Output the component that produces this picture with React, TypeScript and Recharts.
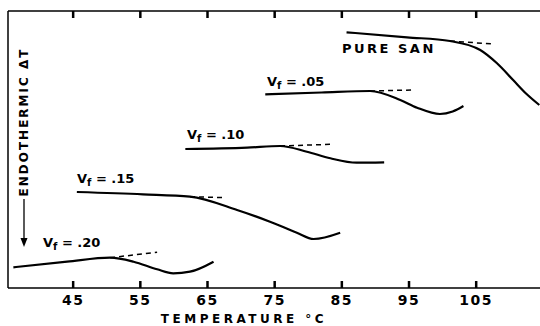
import { ComposedChart, Line, XAxis, YAxis } from "recharts";

// temperature (°C) against endothermic ΔT (arbitrary units, bigger = higher on the page)
const pureSan = [
  { t: 85.7, v: 255.7 },
  { t: 94.7, v: 250.7 },
  { t: 101.1, v: 247 },
  { t: 105.6, v: 238 },
  { t: 108.1, v: 224.7 },
  { t: 110.5, v: 208 },
  { t: 112.5, v: 194 },
  { t: 114.4, v: 183 },
];
const pureSanTangent = [
  { t: 101.1, v: 247 },
  { t: 107.5, v: 244 },
];

const vf05 = [
  { t: 73.6, v: 193.7 },
  { t: 82.0, v: 195.5 },
  { t: 89.2, v: 197 },
  { t: 93.7, v: 188 },
  { t: 96.2, v: 180.3 },
  { t: 99.6, v: 174 },
  { t: 101.5, v: 176.5 },
  { t: 103.1, v: 182 },
];
const vf05Tangent = [
  { t: 89.2, v: 197 },
  { t: 95.6, v: 198 },
];

const vf10 = [
  { t: 61.7, v: 139 },
  { t: 70.9, v: 140.3 },
  { t: 75.8, v: 142 },
  { t: 79.8, v: 136.3 },
  { t: 83.3, v: 129.7 },
  { t: 87.2, v: 125.3 },
  { t: 91.3, v: 125.7 },
];
const vf10Tangent = [
  { t: 75.8, v: 142 },
  { t: 83.5, v: 143.7 },
];

const vf15 = [
  { t: 45.55, v: 96 },
  { t: 55.4, v: 93.7 },
  { t: 62.4, v: 91.3 },
  { t: 69.4, v: 78 },
  { t: 74.3, v: 66.3 },
  { t: 78.3, v: 55.3 },
  { t: 80.8, v: 49 },
  { t: 84.75, v: 55.3 },
];
const vf15Tangent = [
  { t: 62.4, v: 91.3 },
  { t: 67.6, v: 90.3 },
];

const vf20 = [
  { t: 36.1, v: 20.7 },
  { t: 44.1, v: 26.3 },
  { t: 50.5, v: 30.3 },
  { t: 54.0, v: 26.3 },
  { t: 57.5, v: 18.7 },
  { t: 59.9, v: 14.7 },
  { t: 62.4, v: 16.3 },
  { t: 65.9, v: 26.3 },
];
const vf20Tangent = [
  { t: 50.5, v: 30.3 },
  { t: 57.5, v: 35.7 },
];

const xTicks = [45, 55, 65, 75, 85, 95, 105];

const X_DOMAIN = [35.3, 114.5];
const FONT = "'DejaVu Sans', sans-serif";
const PLOT_LEFT = 8;
const PLOT_RIGHT = 540;
const PLOT_TOP = 11;
const PLOT_BOTTOM = 288;

// same linear mapping the x axis uses, only for the frame's inward tick marks
const tx = (t: number) =>
  PLOT_LEFT + ((t - X_DOMAIN[0]) / (X_DOMAIN[1] - X_DOMAIN[0])) * (PLOT_RIGHT - PLOT_LEFT);

const BottomTick = (props: any) => {
  const { x, y, payload } = props;
  return (
    <text
      x={x}
      y={y + 17}
      textAnchor="middle"
      fontFamily={FONT}
      fontSize={14}
      fontWeight="bold"
      letterSpacing={1.5}
      fill="#000"
    >
      {payload.value}
    </text>
  );
};

const VfLabel = ({ x, y, value }: { x: number; y: number; value: string }) => (
  <text x={x} y={y} fontFamily={FONT} fontSize={13} fontWeight="bold" fill="#000">
    <tspan>V</tspan>
    <tspan dy={3} fontSize={10}>f</tspan>
    <tspan dy={-3}>{" = " + value}</tspan>
  </text>
);

const solid = { stroke: "#000", strokeWidth: 2.2, dot: false, isAnimationActive: false };
const dashed = {
  stroke: "#000",
  strokeWidth: 1.5,
  strokeDasharray: "5 4",
  dot: false,
  isAnimationActive: false,
};

export default function App() {
  return (
    <div style={{ position: "absolute", left: 0, top: 0 }}>
      <ComposedChart
        width={540}
        height={326}
        margin={{ top: PLOT_TOP, right: 0, bottom: 0, left: PLOT_LEFT }}
        style={{ background: "#fff" }}
      >
        <XAxis
          dataKey="t"
          type="number"
          domain={X_DOMAIN}
          allowDataOverflow
          ticks={xTicks}
          height={38}
          tickSize={0}
          tickMargin={0}
          tickLine={false}
          axisLine={{ stroke: "#000", strokeWidth: 1.5 }}
          tick={<BottomTick />}
        />
        <YAxis type="number" domain={[0, 277]} hide allowDataOverflow />
        <line x1={PLOT_LEFT} y1={PLOT_TOP} x2={PLOT_RIGHT} y2={PLOT_TOP} stroke="#000" strokeWidth={1.5} />
        <line x1={PLOT_LEFT} y1={PLOT_TOP} x2={PLOT_LEFT} y2={PLOT_BOTTOM} stroke="#000" strokeWidth={1.5} />
        <g>
          {xTicks.map((t) => (
            <g key={t}>
              <line x1={tx(t)} y1={PLOT_BOTTOM} x2={tx(t)} y2={PLOT_BOTTOM - 7} stroke="#000" strokeWidth={2.5} />
              <line x1={tx(t)} y1={PLOT_TOP} x2={tx(t)} y2={PLOT_TOP + 7} stroke="#000" strokeWidth={2.5} />
            </g>
          ))}
        </g>

        <Line data={pureSan} dataKey="v" type="monotone" {...solid} />
        <Line data={pureSanTangent} dataKey="v" type="linear" {...dashed} />
        <Line data={vf05} dataKey="v" type="monotone" {...solid} />
        <Line data={vf05Tangent} dataKey="v" type="linear" {...dashed} />
        <Line data={vf10} dataKey="v" type="monotone" {...solid} />
        <Line data={vf10Tangent} dataKey="v" type="linear" {...dashed} />
        <Line data={vf15} dataKey="v" type="monotone" {...solid} />
        <Line data={vf15Tangent} dataKey="v" type="linear" {...dashed} />
        <Line data={vf20} dataKey="v" type="monotone" {...solid} />
        <Line data={vf20Tangent} dataKey="v" type="linear" {...dashed} />

        <text
          x={342}
          y={53}
          fontFamily={FONT}
          fontSize={13}
          fontWeight="bold"
          letterSpacing={2.5}
          fill="#000"
        >
          PURE SAN
        </text>
        <VfLabel x={267} y={86} value=".05" />
        <VfLabel x={187} y={139} value=".10" />
        <VfLabel x={77} y={183} value=".15" />
        <VfLabel x={43} y={247} value=".20" />

        <text
          x={244}
          y={323}
          textAnchor="middle"
          fontFamily={FONT}
          fontSize={12}
          fontWeight="bold"
          letterSpacing={3.5}
          fill="#000"
        >
          TEMPERATURE °C
        </text>
        <text
          transform="translate(28,122) rotate(-90)"
          textAnchor="middle"
          fontFamily={FONT}
          fontSize={12}
          fontWeight="bold"
          letterSpacing={2}
          fill="#000"
        >
          ENDOTHERMIC ΔT
        </text>
        <line x1={24} y1={199} x2={24} y2={240} stroke="#000" strokeWidth={1.3} />
        <path d="M20.5,238 L27.5,238 L24,247 Z" fill="#000" />
      </ComposedChart>
    </div>
  );
}
